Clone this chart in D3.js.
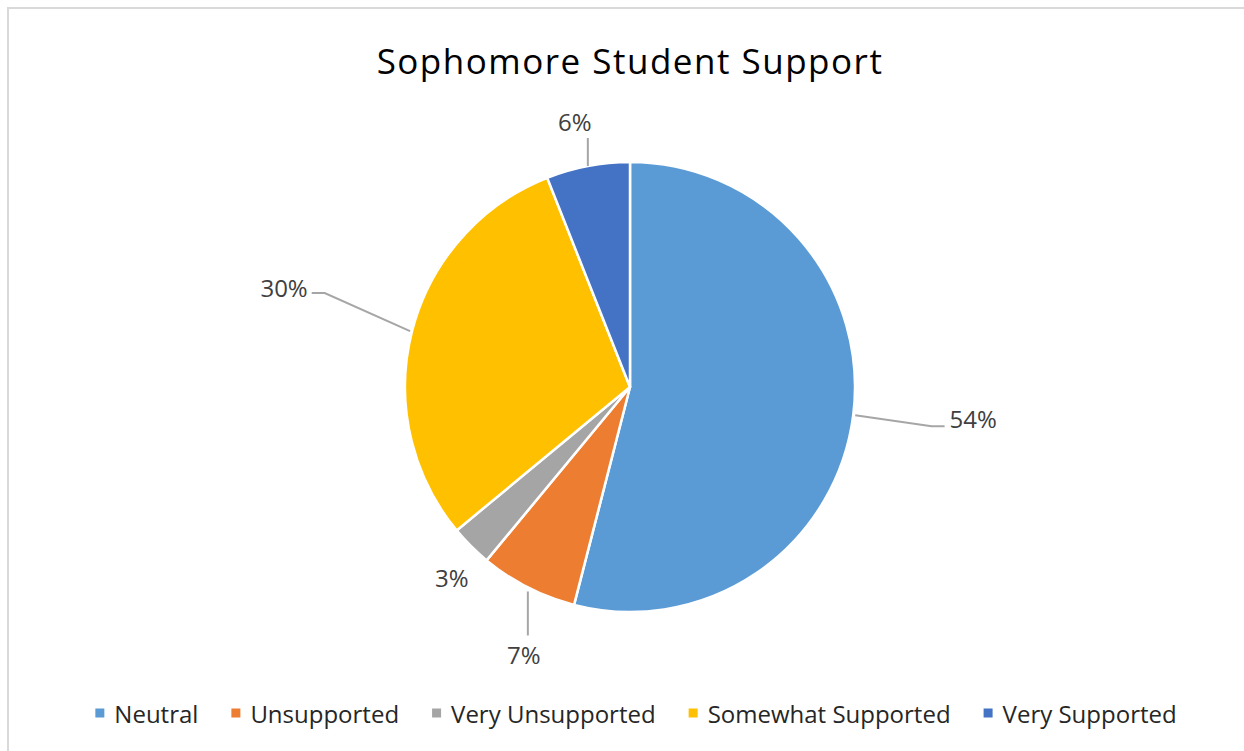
<!DOCTYPE html>
<html>
<head>
<meta charset="utf-8">
<script src="https://cdn.jsdelivr.net/npm/d3@7"></script>
<style>
  html, body { margin: 0; padding: 0; background: #fff; }
  svg { display: block; }
  text { font-family: "Open Sans", "Noto Sans", sans-serif; }
</style>
</head>
<body>
<svg id="chart" width="1244" height="751"></svg>
<script>
// Survey results: share of sophomore students per support level (percent)
const categories = ["Neutral", "Unsupported", "Very Unsupported", "Somewhat Supported", "Very Supported"];
const shares = [54, 7, 3, 30, 6];
const colors = ["#5B9BD5", "#ED7D31", "#A5A5A5", "#FFC000", "#4472C4"];
const chartTitle = "Sophomore Student Support";

const W = 1244, H = 751;
const cx = 630, cy = 387, radius = 225;

const svg = d3.select("#chart");

// chart area frame
svg.append("rect")
  .attr("x", 8).attr("y", 8)
  .attr("width", W + 20).attr("height", H + 20)
  .attr("fill", "#fff")
  .attr("stroke", "#d9d9d9").attr("stroke-width", 2);

// title
svg.append("text")
  .attr("x", cx).attr("y", 74)
  .attr("text-anchor", "middle")
  .attr("font-size", 35)
  .attr("letter-spacing", 1.5)
  .attr("fill", "#000")
  .text(chartTitle);

const data = categories.map((c, i) => ({ category: c, value: shares[i], color: colors[i] }));

const pie = d3.pie().sort(null).value(d => d.value).startAngle(0).endAngle(2 * Math.PI);
const arcs = pie(data);
const arc = d3.arc().innerRadius(0).outerRadius(radius);

const g = svg.append("g").attr("transform", `translate(${cx},${cy})`);

g.selectAll("path.slice")
  .data(arcs)
  .join("path")
  .attr("class", "slice")
  .attr("d", arc)
  .attr("fill", d => d.data.color)
  .attr("stroke", "#fff")
  .attr("stroke-width", 2.5)
  .attr("stroke-linejoin", "round");

// label placement per slice: offset of the label centre from the slice's outer
// edge point, plus the leader style ("elbow", "vertical" or none)
const labelPlacement = {
  "Neutral":            { dx: 120, dy: 3,   leader: "elbow" },
  "Unsupported":        { dx: -4,  dy: 67,  leader: "vertical" },
  "Very Unsupported":   { dx: -19, dy: 31,  leader: null },
  "Somewhat Supported": { dx: -128, dy: -44, leader: "elbow" },
  "Very Supported":     { dx: -13, dy: -44, leader: "vertical" }
};

const labelG = svg.append("g");
const fmt = d => `${d}%`;

arcs.forEach(a => {
  const mid = (a.startAngle + a.endAngle) / 2;
  const ex = cx + radius * Math.sin(mid);
  const ey = cy - radius * Math.cos(mid);
  const p = labelPlacement[a.data.category];
  const lx = ex + p.dx, ly = ey + p.dy;

  const t = labelG.append("text")
    .attr("x", lx).attr("y", ly)
    .attr("text-anchor", "middle")
    .attr("dominant-baseline", "central")
    .attr("font-size", 24)
    .attr("fill", "#404040")
    .text(fmt(a.data.value));

  const half = t.node().getComputedTextLength() / 2;
  let pts = null;
  if (p.leader === "elbow") {
    const right = lx > ex;           // label sits to the right of the pie edge
    const endX = right ? lx - half - 5 : lx + half + 4;
    const kneeX = right ? endX - 13 : endX + 13;
    const lineY = ly + (right ? 8 : 6);
    pts = [[ex + (right ? 2 : -2), ey], [kneeX, lineY], [endX, lineY]];
  } else if (p.leader === "vertical") {
    const below = ly > ey;
    pts = [[ex, ey + (below ? 4 : 0)], [ex, below ? ly - 19 : ly + 16]];
  }
  if (pts) {
    labelG.append("path")
      .attr("d", d3.line()(pts))
      .attr("fill", "none")
      .attr("stroke", "#a6a6a6")
      .attr("stroke-width", 2);
  }
});

// legend, laid out left to right and centred under the pie
const legend = svg.append("g");
const legendY = 713, sw = 9, textGap = 10, itemGap = 33;
let x = 0;
data.forEach(d => {
  const item = legend.append("g").attr("transform", `translate(${x},0)`);
  item.append("rect")
    .attr("x", 0).attr("y", legendY - sw / 2)
    .attr("width", sw).attr("height", sw)
    .attr("fill", d.color);
  const t = item.append("text")
    .attr("x", sw + textGap).attr("y", legendY)
    .attr("dominant-baseline", "central")
    .attr("font-size", 24)
    .attr("fill", "#262626")
    .text(d.category);
  x += sw + textGap + t.node().getComputedTextLength() + itemGap;
});
const totalW = x - itemGap;
legend.attr("transform", `translate(${636 - totalW / 2},0)`);
</script>
</body>
</html>
